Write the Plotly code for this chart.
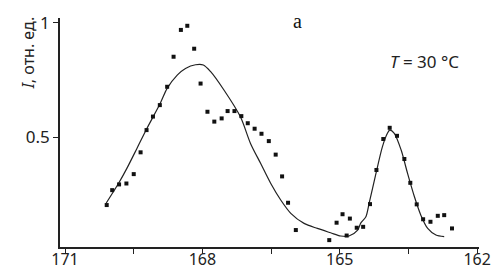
import plotly.graph_objects as go

# measured points (wavenumber-like x, relative intensity y)
pts_x = [170.09, 169.97, 169.82, 169.66, 169.50, 169.35, 169.22, 169.08, 168.93, 168.77,
         168.63, 168.47, 168.33, 168.18, 168.04, 167.89, 167.74, 167.58, 167.45, 167.30,
         167.15, 167.01, 166.86, 166.71, 166.55, 166.40, 166.26, 166.13, 165.96, 165.23,
         165.07, 164.94, 164.85, 164.78, 164.63, 164.49, 164.34, 164.20, 164.05, 163.91,
         163.75, 163.59, 163.46, 163.32, 163.18, 163.02, 162.86, 162.72, 162.55]
pts_y = [0.205, 0.270, 0.295, 0.299, 0.340, 0.435, 0.532, 0.591, 0.641, 0.721,
         0.852, 0.969, 0.987, 0.887, 0.735, 0.612, 0.569, 0.583, 0.615, 0.615,
         0.593, 0.562, 0.538, 0.516, 0.484, 0.425, 0.330, 0.215, 0.096, 0.052,
         0.128, 0.165, 0.072, 0.146, 0.106, 0.110, 0.209, 0.358, 0.493, 0.542,
         0.507, 0.406, 0.302, 0.208, 0.143, 0.132, 0.158, 0.161, 0.103]

# fitted curve
fit_x = [170.10, 169.83, 169.65, 169.43, 169.21, 168.92, 168.77, 168.55, 168.37, 168.15,
         167.98, 167.82, 167.53, 167.17, 166.95, 166.73, 166.51, 166.29, 166.07, 165.78,
         165.49, 165.20, 164.98, 164.80, 164.61, 164.54, 164.43, 164.36, 164.21, 164.07,
         163.96, 163.91, 163.81, 163.66, 163.52, 163.37, 163.23, 163.08, 162.90, 162.72]
fit_y = [0.214, 0.300, 0.365, 0.452, 0.540, 0.649, 0.714, 0.772, 0.801, 0.817,
         0.816, 0.787, 0.707, 0.590, 0.474, 0.387, 0.300, 0.227, 0.169, 0.125,
         0.103, 0.084, 0.070, 0.070, 0.096, 0.127, 0.154, 0.212, 0.343, 0.459,
         0.518, 0.532, 0.518, 0.445, 0.343, 0.241, 0.161, 0.103, 0.074, 0.067]

x_tickvals = [171, 169.5, 168, 166.5, 165, 163.5, 162]
x_ticktext = ["171", "", "168", "", "165", "", "162"]
y_tickvals = [0.5, 1]
y_ticktext = ["0.5", "1"]

fig = go.Figure()
fig.add_trace(go.Scatter(x=fit_x, y=fit_y, mode="lines",
                         line=dict(color="#222", width=1.2, shape="spline", smoothing=0.8),
                         hoverinfo="skip"))
fig.add_trace(go.Scatter(x=pts_x, y=pts_y, mode="markers",
                         marker=dict(symbol="square", size=4, color="#111")))

font_main = "Noto Sans, Liberation Sans, sans-serif"
fig.update_layout(
    width=503, height=273,
    margin=dict(l=52, r=32, t=10, b=34, autoexpand=False),
    paper_bgcolor="white", plot_bgcolor="white",
    showlegend=False,
    font=dict(family=font_main, size=16, color="#222"),
    xaxis=dict(range=[171.11, 161.96], tickvals=x_tickvals, ticktext=x_ticktext,
               showgrid=False, zeroline=False, showline=True, linecolor="#222", linewidth=1.5,
               ticks="outside", ticklen=5, tickwidth=1.2, tickcolor="#222",
               tickfont=dict(size=16), ticklabelstandoff=-8, automargin=False),
    yaxis=dict(range=[0.022, 1.021], tickvals=y_tickvals, ticktext=y_ticktext,
               showgrid=False, zeroline=False, showline=True, linecolor="#222", linewidth=1.5,
               ticks="outside", ticklen=5, tickwidth=1.2, tickcolor="#222",
               tickfont=dict(size=17), automargin=False),
    annotations=[
        dict(text="<i>I</i>, отн. ед.", xref="paper", yref="paper", x=-0.0764, y=0.85,
             xanchor="center", yanchor="middle",
             textangle=-90, showarrow=False, font=dict(size=16)),
        dict(text="a", xref="paper", yref="paper", x=0.566, y=0.985,
             xanchor="center", yanchor="middle", showarrow=False,
             font=dict(family="Liberation Serif, serif", size=20, color="#111")),
        dict(text="<i>T</i> = 30 °C", xref="paper", yref="paper", x=0.869, y=0.808,
             xanchor="center", yanchor="middle",
             showarrow=False, font=dict(size=17)),
    ],
)

fig.write_html("out.html")
